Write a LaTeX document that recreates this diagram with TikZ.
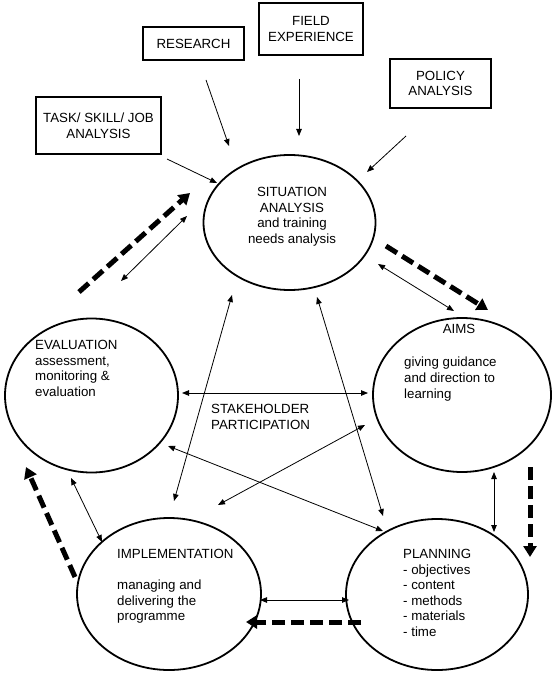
\documentclass[tikz,border=0pt]{standalone}
\usepackage{fontspec}
\setmainfont{Liberation Sans}
\usetikzlibrary{shapes.geometric,arrows.meta}
\begin{document}
\begin{tikzpicture}[x=1pt,y=-1pt,
  ell/.style={draw, ellipse, line width=1.8pt, inner sep=0pt},
  box/.style={draw, line width=1.8pt, inner sep=0pt, align=center,
    font=\fontsize{13.3}{15.6}\selectfont},
  txt/.style={inner sep=0pt, font=\fontsize{13.3}{15.6}\selectfont},
  thinarrow/.style={line width=0.8pt, -{Triangle[length=7pt,width=5.5pt]}},
  botharrow/.style={line width=0.8pt, {Triangle[length=7pt,width=5.5pt]}-{Triangle[length=7pt,width=5.5pt]}},
  flow/.style={line width=5pt, dash pattern=on 13pt off 6pt, -{Triangle[length=11pt,width=13pt]}}]
\useasboundingbox (0,0) rectangle (555,676);

% ellipses
\node[ell, minimum width=172pt, minimum height=135pt] (sit) at (289.5,222.5) {};
\node[ell, minimum width=178pt, minimum height=154pt] (aims) at (462,395) {};
\node[ell, minimum width=173pt, minimum height=154pt] (eval) at (91.5,395.5) {};
\node[ell, minimum width=184pt, minimum height=152pt] (impl) at (169,594) {};
\node[ell, minimum width=182pt, minimum height=151pt] (plan) at (437,594.5) {};

% boxes
\node[box, minimum width=125pt, minimum height=57pt] (task) at (98.5,125.5) {TASK/ SKILL/ JOB\\ANALYSIS};
\node[box, minimum width=101pt, minimum height=33pt] (res) at (193.5,43.5) {RESEARCH};
\node[box, minimum width=104pt, minimum height=52pt] (field) at (311,29) {FIELD\\EXPERIENCE};
\node[box, minimum width=101pt, minimum height=49pt] (pol) at (440.5,83.5) {POLICY\\ANALYSIS};

% texts
\node[txt, align=center, anchor=north] (sittxt) at (292,187) {SITUATION\\ANALYSIS\\and training\\needs analysis};
\node[txt, anchor=north] (aimstitle) at (459,324) {AIMS};
\node[txt, align=left, anchor=north west] (aimstxt) at (404,357) {giving guidance\\and direction to\\learning};
\node[txt, align=left, anchor=north west] (evaltxt) at (35,340) {EVALUATION\\assessment,\\monitoring \&\\evaluation};
\node[txt, align=left, anchor=north west] (impltxt) at (117,549) {IMPLEMENTATION\\[15.6pt]managing and\\delivering the\\programme};
\node[txt, align=left, anchor=north west] (plantxt) at (403,549) {PLANNING\\- objectives\\- content\\- methods\\- materials\\- time};
\node[txt, align=left, anchor=north west] (stake) at (211,404) {STAKEHOLDER\\PARTICIPATION};

% connector end points
\coordinate (t1) at (167,159); \coordinate (t2) at (217,183);
\coordinate (r1) at (206,80);  \coordinate (r2) at (229,146);
\coordinate (f1) at (299,79);  \coordinate (f2) at (299,136);
\coordinate (p1) at (406,136); \coordinate (p2) at (367,172);

\coordinate (d1a) at (79,292);  \coordinate (d1b) at (190,193);
\coordinate (d2a) at (386,246); \coordinate (d2b) at (488,310);
\coordinate (d3a) at (530,467); \coordinate (d3b) at (530,557);
\coordinate (d4a) at (361,622); \coordinate (d4b) at (246,622);
\coordinate (d5a) at (75,577);  \coordinate (d5b) at (26,467);

\coordinate (b1a) at (121,281); \coordinate (b1b) at (187,216);
\coordinate (b2a) at (378,264); \coordinate (b2b) at (454,311);
\coordinate (b3a) at (494,472); \coordinate (b3b) at (494,532);
\coordinate (b4a) at (260,600); \coordinate (b4b) at (349,600);
\coordinate (b5a) at (71,478);  \coordinate (b5b) at (102,542);
\coordinate (b6a) at (182,393); \coordinate (b6b) at (368,393);
\coordinate (b7a) at (232,295); \coordinate (b7b) at (174,501);
\coordinate (b8a) at (317,297); \coordinate (b8b) at (383,516);
\coordinate (b9a) at (168,446); \coordinate (b9b) at (383,531);
\coordinate (b10a) at (365,425); \coordinate (b10b) at (218,505);

% inputs
\draw[thinarrow] (t1) -- (t2);
\draw[thinarrow] (r1) -- (r2);
\draw[thinarrow] (f1) -- (f2);
\draw[thinarrow] (p1) -- (p2);

% cycle
\draw[flow] (d1a) -- (d1b);
\draw[flow] (d2a) -- (d2b);
\draw[flow] (d3a) -- (d3b);
\draw[flow] (d4a) -- (d4b);
\draw[flow] (d5a) -- (d5b);

% two-way links
\draw[botharrow] (b1a) -- (b1b);
\draw[botharrow] (b2a) -- (b2b);
\draw[botharrow] (b3a) -- (b3b);
\draw[botharrow] (b4a) -- (b4b);
\draw[botharrow] (b5a) -- (b5b);
\draw[botharrow] (b6a) -- (b6b);
\draw[botharrow] (b7a) -- (b7b);
\draw[botharrow] (b8a) -- (b8b);
\draw[botharrow] (b9a) -- (b9b);
\draw[botharrow] (b10a) -- (b10b);
\end{tikzpicture}
\end{document}
